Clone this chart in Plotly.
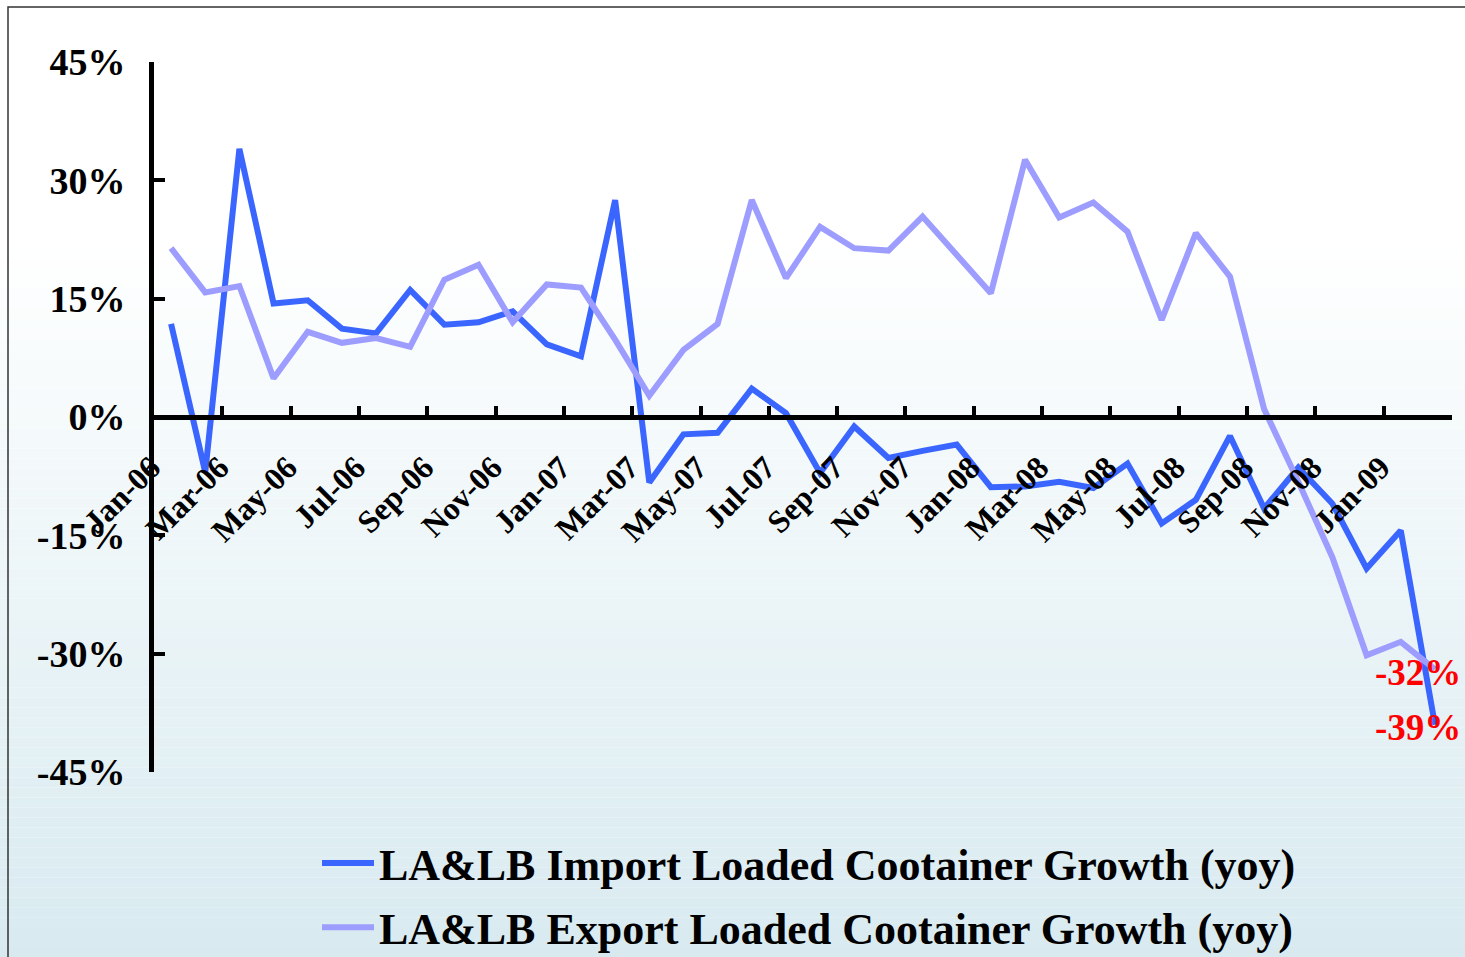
import plotly.graph_objects as go

months = ['Jan-06', 'Feb-06', 'Mar-06', 'Apr-06', 'May-06', 'Jun-06', 'Jul-06', 'Aug-06',
          'Sep-06', 'Oct-06', 'Nov-06', 'Dec-06', 'Jan-07', 'Feb-07', 'Mar-07', 'Apr-07',
          'May-07', 'Jun-07', 'Jul-07', 'Aug-07', 'Sep-07', 'Oct-07', 'Nov-07', 'Dec-07',
          'Jan-08', 'Feb-08', 'Mar-08', 'Apr-08', 'May-08', 'Jun-08', 'Jul-08', 'Aug-08',
          'Sep-08', 'Oct-08', 'Nov-08', 'Dec-08', 'Jan-09', 'Feb-09']

# yoy growth in percent
import_yoy = [11.8, -7.0, 34.0, 14.4, 14.8, 11.2, 10.6, 16.1, 11.7, 12.0, 13.4, 9.2, 7.7,
              27.5, -8.3, -2.2, -2.0, 3.6, 0.5, -7.1, -1.2, -5.2, -4.3, -3.5, -8.9, -8.8,
              -8.2, -9.0, -5.9, -13.5, -10.5, -2.4, -11.6, -6.4, -11.0, -19.2, -14.4, -39.0]
export_yoy = [21.4, 15.8, 16.6, 4.9, 10.8, 9.4, 10.0, 8.9, 17.4, 19.3, 12.0, 16.8, 16.4,
              9.8, 2.7, 8.5, 11.8, 27.5, 17.6, 24.1, 21.4, 21.1, 25.4, 20.6, 15.7, 32.6,
              25.3, 27.2, 23.5, 12.3, 23.3, 17.8, 1.0, -8.2, -17.8, -30.2, -28.5, -32.0]

y_ticks = [-45, -30, -15, 0, 15, 30, 45]
y_ticktext = [f'{v}%' for v in y_ticks]

W, H = 1465, 957
SERIF = 'Liberation Serif'
IMPORT_COLOR = '#3a66ff'
EXPORT_COLOR = '#9d9dff'

fig = go.Figure()
fig.add_trace(go.Scatter(x=months, y=import_yoy, mode='lines', legendgroup='imp',
                         name='LA&LB Import Loaded Cootainer Growth (yoy)',
                         line=dict(color=IMPORT_COLOR, width=6)))
fig.add_trace(go.Scatter(x=months, y=export_yoy, mode='lines', legendgroup='exp',
                         name='LA&LB Export Loaded Cootainer Growth (yoy)',
                         line=dict(color=EXPORT_COLOR, width=6)))

# red labels on the last values
for vals in (export_yoy, import_yoy):
    fig.add_annotation(x=months[-1], y=vals[-1], text=f'<b>{vals[-1]:.0f}%</b>',
                       showarrow=False, xanchor='right', xshift=28, yshift=-3,
                       font=dict(family=SERIF, size=37, color='#ff0000'))

# background gradient: white at top fading to pale blue at bottom
shapes = []
n_bands = 96
top = (255, 255, 255)
bottom = (216, 234, 240)
for k in range(n_bands):
    t = (k + 0.5) / n_bands
    f = max(0.0, (t - 0.25) / 0.75)
    c = tuple(round(a + (b - a) * f) for a, b in zip(top, bottom))
    shapes.append(dict(type='rect', xref='paper', yref='paper', layer='below',
                       x0=0, x1=1, y0=1 - (k + 1) / n_bands, y1=1 - k / n_bands,
                       line=dict(width=0), fillcolor='rgb(%d,%d,%d)' % c))
# frame
shapes.append(dict(type='rect', xref='paper', yref='paper', layer='below',
                   x0=8 / W, x1=1.2, y0=-0.2, y1=1 - 7 / H,
                   line=dict(color='#333333', width=1.5), fillcolor='rgba(0,0,0,0)'))

y_dom = [(H - 772) / H, (H - 62) / H]

fig.update_layout(
    width=W, height=H, autosize=False,
    margin=dict(l=0, r=0, t=0, b=0, autoexpand=False),
    paper_bgcolor='white', plot_bgcolor='rgba(0,0,0,0)',
    shapes=shapes,
    showlegend=True,
    legend=dict(x=317 / W, xanchor='left', y=(H - 828) / H, yanchor='top',
                bgcolor='rgba(0,0,0,0)', itemwidth=52, tracegroupgap=4,
                font=dict(family=SERIF, size=44, color='black', weight='bold')),
    xaxis=dict(type='category', domain=[154 / W, 1452 / W], range=[-0.5, 37.5],
               anchor='free', position=sum(y_dom) / 2, automargin=False,
               tickmode='linear', tick0=0, dtick=2, tickson='boundaries',
               ticks='inside', ticklen=9, tickwidth=4, tickcolor='black',
               showline=True, linewidth=5, linecolor='black',
               showgrid=False, zeroline=False, tickangle=-45,
               ticklabelshift=-20, ticklabelstandoff=16,
               tickfont=dict(family=SERIF, size=32, color='black', weight='bold')),
    yaxis=dict(domain=y_dom, range=[-45, 45], tickmode='array', tickvals=y_ticks,
               ticktext=y_ticktext, automargin=False,
               ticks='inside', ticklen=11, tickwidth=4, tickcolor='black',
               showline=True, linewidth=5, linecolor='black',
               showgrid=False, zeroline=False, ticklabelstandoff=16,
               tickfont=dict(family=SERIF, size=38, color='black', weight='bold')),
)

fig.write_html('out.html', config={'displayModeBar': False},
               post_script="document.body.style.margin='0';")
